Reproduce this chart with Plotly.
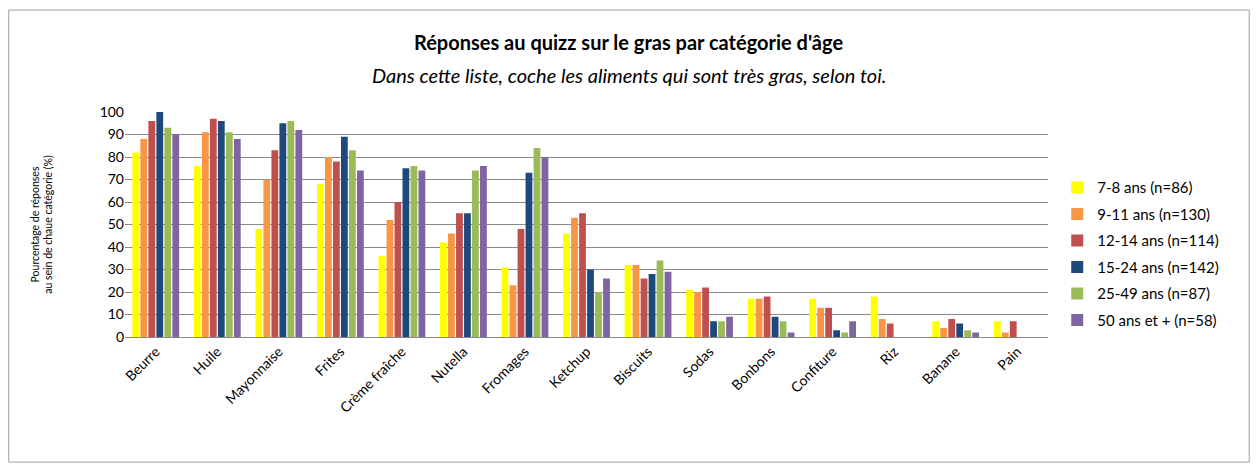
import plotly.graph_objects as go

aliments = ["Beurre", "Huile", "Mayonnaise", "Frites", "Crème fraîche", "Nutella", "Fromages",
            "Ketchup", "Biscuits", "Sodas", "Bonbons", "Confiture", "Riz", "Banane", "Pain"]

groupes = ["7-8 ans (n=86)", "9-11 ans (n=130)", "12-14 ans (n=114)",
           "15-24 ans (n=142)", "25-49 ans (n=87)", "50 ans et + (n=58)"]

ans_7_8 = [82, 76, 48, 68, 36, 42, 31, 46, 32, 21, 17, 17, 18, 7, 7]
ans_9_11 = [88, 91, 70, 80, 52, 46, 23, 53, 32, 20, 17, 13, 8, 4, 2]
ans_12_14 = [96, 97, 83, 78, 60, 55, 48, 55, 26, 22, 18, 13, 6, 8, 7]
ans_15_24 = [100, 96, 95, 89, 75, 55, 73, 30, 28, 7, 9, 3, 0, 6, 0]
ans_25_49 = [93, 91, 96, 83, 76, 74, 84, 20, 34, 7, 7, 2, 0, 3, 0]
ans_50_plus = [90, 88, 92, 74, 74, 76, 80, 26, 29, 9, 2, 7, 0, 2, 0]

series = [ans_7_8, ans_9_11, ans_12_14, ans_15_24, ans_25_49, ans_50_plus]
couleurs = ["#FFFF00", "#F79646", "#C0504D", "#1F497D", "#9BBB59", "#8064A2"]

font = "Lato, 'Open Sans', sans-serif"

fig = go.Figure()
for nom, valeurs, couleur in zip(groupes, series, couleurs):
    fig.add_trace(go.Bar(x=aliments, y=valeurs, name=nom, marker_color=couleur,
                         marker_line_width=0, legendgroup=nom))

fig.update_layout(
    width=1250,
    height=463,
    barmode="group",
    bargap=0.22,
    bargroupgap=0.15,
    plot_bgcolor="white",
    paper_bgcolor="white",
    margin=dict(l=117, r=210, t=104, b=134),
    font=dict(family=font, size=14, color="black"),
    showlegend=True,
    legend=dict(x=1.01, y=0.37, yanchor="middle", xanchor="left",
                font=dict(size=15), tracegroupgap=4, itemwidth=30,
                bgcolor="rgba(0,0,0,0)"),
    xaxis=dict(tickangle=-45, showline=True, linecolor="#888888", linewidth=1,
               ticks="", tickfont=dict(size=14)),
    yaxis=dict(range=[0, 100], dtick=10, showgrid=True, gridcolor="#8a8a8a",
               gridwidth=1, zeroline=False, showline=False, ticks="",
               tickfont=dict(size=14),
               title=dict(text="Pourcentage de réponses<br>au sein de chaue catégorie (%)",
                          font=dict(size=10.5), standoff=44)),
    shapes=[dict(type="rect", xref="paper", yref="paper",
                 x0=-0.126, x1=1.218, y0=-0.556, y1=1.453,
                 line=dict(color="#a0a0a0", width=1), fillcolor="rgba(0,0,0,0)")],
    annotations=[
        dict(text="<b>Réponses au quizz sur le gras par catégorie d'âge</b>",
             xref="paper", yref="paper", x=0.546, y=1.31, showarrow=False,
             font=dict(size=20), xanchor="center", yanchor="middle"),
        dict(text="<i>Dans cette liste, coche les aliments qui sont très gras, selon toi.</i>",
             xref="paper", yref="paper", x=0.546, y=1.165, showarrow=False,
             font=dict(size=20), xanchor="center", yanchor="middle"),
    ],
)

fig.write_html("out.html")
